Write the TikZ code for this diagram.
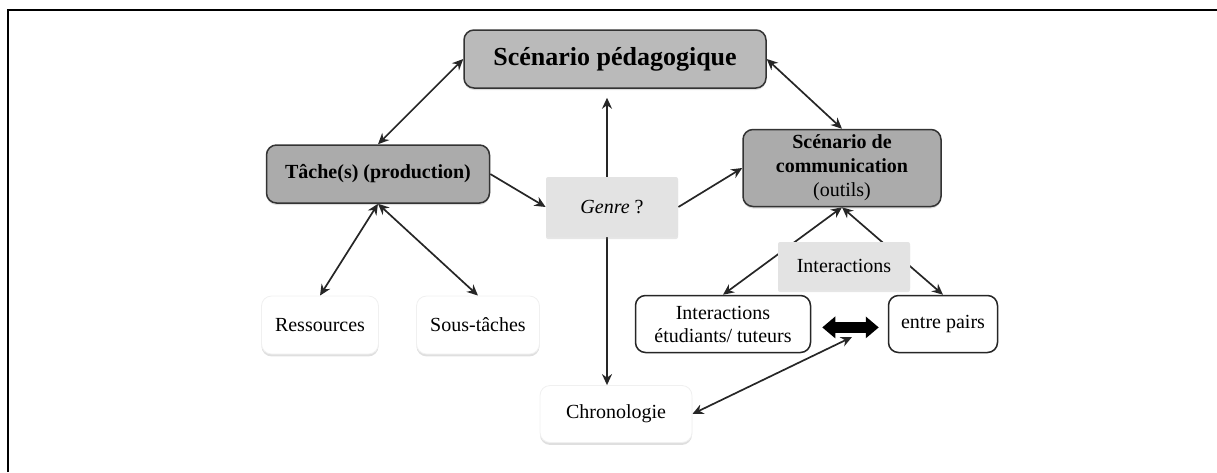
\documentclass[tikz,border=0pt]{standalone}
\usepackage{fontspec}
\setmainfont{Liberation Serif}
\usetikzlibrary{arrows.meta,shadows,backgrounds}

\tikzset{
    box/.style={inner sep=0pt, align=center, font=\fontsize{10}{12}\selectfont},
    darkbox/.style={box, rounded corners=5pt, draw=black!80, line width=0.75pt, fill=black!33,
        drop shadow={shadow xshift=0pt, shadow yshift=-1pt, opacity=0.25}},
    greybox/.style={box, rounded corners=1pt, fill=black!11,
        drop shadow={shadow xshift=0pt, shadow yshift=-1pt, opacity=0.2}},
    whitebox/.style={box, rounded corners=5pt, fill=white, draw=black!6,
        drop shadow={shadow xshift=0pt, shadow yshift=-1.2pt, opacity=0.25}},
    linebox/.style={box, rounded corners=5pt, fill=white, draw=black!85, line width=0.75pt},
    link/.style={line width=0.85pt, black!85},
    fatlink/.style={line width=5.5pt, {Triangle[length=6.5pt,width=10.5pt]}-{Triangle[length=6.5pt,width=10.5pt]}}
}

\begin{document}
\begin{tikzpicture}[x=0.5pt, y=-0.5pt, >={Stealth[length=5.5pt,width=5pt]}]
            \useasboundingbox (0,0) rectangle (1217,472);

            % frame
            \draw[line width=1.3pt] (8,472) -- (8,10) -- (230,10);
            \draw[line width=0.6pt] (230,10) -- (1008,10);
            \draw[line width=1.3pt] (1008,10) -- (1217,10);

            \node[darkbox, fill=black!27, minimum width=151pt, minimum height=29pt, font=\fontsize{13}{15}\selectfont\bfseries]
                (ped) at (615, 59) {Scénario pédagogique};
            \node[darkbox, minimum width=111.5pt, minimum height=29pt, font=\fontsize{10}{12}\selectfont\bfseries]
                (tache) at (378,174) {Tâche(s) (production)};
            \node[greybox, minimum width=66pt, minimum height=30pt]
                (genre) at (612,207) {\itshape Genre\/ \upshape ?};
            \node[darkbox, minimum width=99pt, minimum height=38.5pt, font=\fontsize{10}{12}\selectfont\bfseries]
                (com) at (842,168) {Scénario de\\communication\\\mdseries (outils)};
            \node[greybox, minimum width=66pt, minimum height=24pt]
                (inter) at (844,266) {Interactions};

            \node[whitebox, minimum width=58.5pt, minimum height=29pt] (res)    at (320,325) {Ressources};
            \node[whitebox, minimum width=61.5pt, minimum height=29pt] (sous)   at (478,325) {Sous-tâches};
            \node[whitebox, minimum width=76pt, minimum height=28.5pt] (chrono) at (616,414) {Chronologie};

            \node[linebox, minimum width=87.5pt, minimum height=28.5pt, font=\fontsize{10}{11.5}\selectfont]
                (etu) at (723,324) {Interactions\\étudiants/ tuteurs};
            \node[linebox, minimum width=54.5pt, minimum height=28.5pt] (pairs) at (943,324) {entre pairs};

            \coordinate (pivot) at (852,337);

            \begin{pgfonlayer}{background}
            \draw[link, <->] (tache.north) -- (ped.west);
            \draw[link, <->] (ped.east) -- (com.north);
            \draw[link, <->, shorten <=4.5pt] ([xshift=-4pt]ped.south) -- ([xshift=-4.5pt]chrono.north);
            \draw[link, ->] (tache.east) -- (genre.west);
            \draw[link, ->] (genre.east) -- (com.west);
            \draw[link, <->] (tache.south) -- (res.north);
            \draw[link, <->] (tache.south) -- (sous.north);
            \draw[link, <->] (com.south) -- (etu.north);
            \draw[link, <->] (com.south) -- (pairs.north);
            \draw[link, <->] (chrono.east) -- (pivot);
            \end{pgfonlayer}

            \draw[fatlink, shorten <=5.5pt, shorten >=4.5pt] ([yshift=-1.7pt]etu.east) -- ([yshift=-1.7pt]pairs.west);

        \end{tikzpicture}
\end{document}
